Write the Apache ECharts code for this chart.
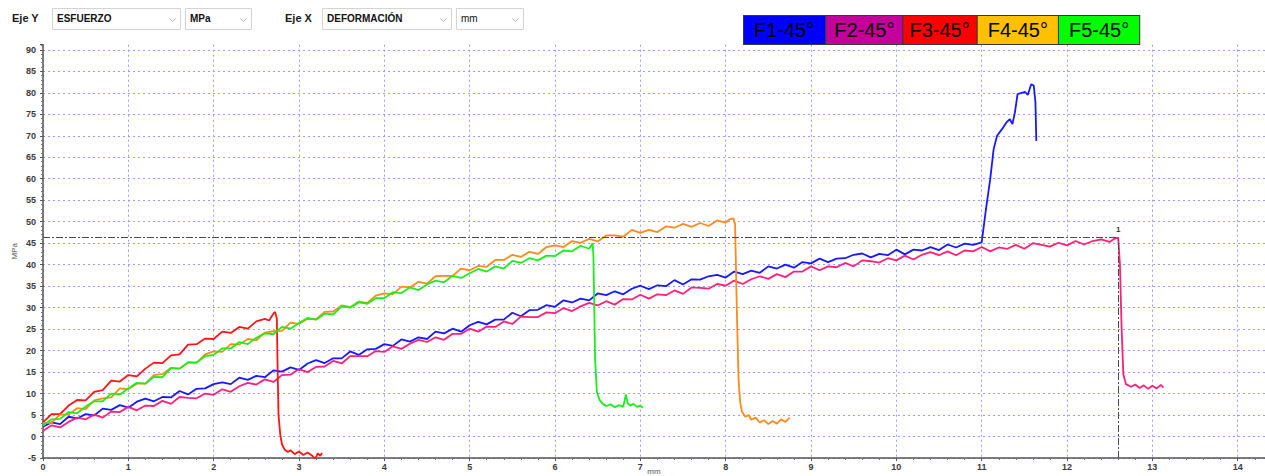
<!DOCTYPE html>
<html>
<head>
<meta charset="utf-8">
<title>Esfuerzo vs deformación</title>
<script src="https://cdn.jsdelivr.net/npm/echarts@6/dist/echarts.min.js"></script>
<style>
  html, body { margin: 0; padding: 0; background: #ffffff; }
  #chart { width: 1265px; height: 476px; }
</style>
</head>
<body>
<div id="chart"></div>
<script>
// Specimen names and legend colours
const seriesNames = ['F1-45°', 'F2-45°', 'F3-45°', 'F4-45°', 'F5-45°'];
const legendColors = ['#0000ff', '#c2009c', '#ff0000', '#ffc000', '#00ff00'];
const lineColors = ['#1818ff', '#ff2079', '#ff1414', '#ff8a1c', '#1cee1c'];

// Test curves: [deformación (mm), esfuerzo (MPa)]
const F1 = [
  [0.0,2.3],[0.1,3.3],[0.2,2.9],[0.3,4.6],[0.4,4.2],[0.5,5.2],[0.6,4.9],[0.7,6.5],[0.8,6.2],[0.9,7.3],
  [1.0,6.7],[1.1,8.1],[1.2,8.8],[1.3,8.2],[1.4,9.2],[1.5,9.1],[1.6,10.6],[1.7,9.8],[1.8,11.1],[1.9,11.2],
  [2.0,12.2],[2.1,12.6],[2.2,12.2],[2.3,13.7],[2.4,13.2],[2.5,14.1],[2.6,13.8],[2.7,15.4],[2.8,15.1],[2.9,16.1],
  [3.0,15.5],[3.1,17.0],[3.2,17.8],[3.3,17.1],[3.4,18.2],[3.5,18.2],[3.6,19.8],[3.7,19.0],[3.8,20.3],[3.9,20.4],
  [4.0,21.5],[4.1,21.1],[4.2,22.6],[4.3,22.1],[4.4,23.1],[4.5,22.7],[4.6,24.4],[4.7,24.0],[4.8,25.1],[4.9,24.4],
  [5.0,25.9],[5.1,26.7],[5.2,26.1],[5.3,27.2],[5.4,27.2],[5.5,28.8],[5.6,28.0],[5.7,29.4],[5.8,29.5],[5.9,30.6],
  [6.0,30.2],[6.1,31.7],[6.2,31.2],[6.3,32.1],[6.4,31.7],[6.5,33.3],[6.6,32.9],[6.7,33.8],[6.8,33.1],[6.9,34.4],
  [7.0,35.1],[7.1,34.3],[7.2,35.2],[7.3,35.0],[7.4,36.4],[7.5,35.4],[7.6,36.6],[7.7,36.5],[7.8,37.3],[7.9,37.6],
  [8.0,37.0],[8.1,38.4],[8.2,37.8],[8.3,38.6],[8.4,38.1],[8.5,39.6],[8.6,39.1],[8.7,40.0],[8.8,39.3],[8.9,40.6],
  [9.0,40.3],[9.1,41.4],[9.2,40.6],[9.3,41.4],[9.4,41.5],[9.5,42.3],[9.6,42.6],[9.7,41.7],[9.8,42.5],[9.9,42.2],
  [10.0,43.5],[10.1,42.4],[10.2,43.5],[10.3,43.3],[10.4,44.1],[10.5,43.4],[10.6,44.7],[10.7,44.0],[10.8,44.9],[10.9,44.6],
  [11.0,45.2],[11.05,52.9],[11.1,59.9],[11.14,66.9],[11.18,70.0],[11.24,71.6],[11.29,73.1],[11.33,73.9],[11.36,72.7],
  [11.39,75.5],[11.42,79.7],[11.51,80.2],[11.54,79.5],[11.58,82.0],[11.61,81.7],[11.63,77.8],[11.64,68.8]
];
const F2 = [
  [0.0,1.3],[0.1,2.6],[0.2,2.1],[0.3,3.4],[0.4,4.4],[0.5,4.0],[0.6,5.1],[0.7,4.4],[0.8,5.8],[0.9,5.7],
  [1.0,6.9],[1.1,6.1],[1.2,7.2],[1.3,7.1],[1.4,8.3],[1.5,7.6],[1.6,9.2],[1.7,9.0],[1.8,8.9],[1.9,10.0],
  [2.0,9.7],[2.1,11.0],[2.2,10.4],[2.3,11.7],[2.4,12.5],[2.5,12.1],[2.6,13.3],[2.7,12.7],[2.8,14.3],[2.9,14.4],
  [3.0,15.7],[3.1,15.0],[3.2,16.2],[3.3,16.3],[3.4,17.6],[3.5,17.0],[3.6,18.7],[3.7,18.7],[3.8,18.7],[3.9,19.9],
  [4.0,19.7],[4.1,21.0],[4.2,20.4],[4.3,21.6],[4.4,22.5],[4.5,22.0],[4.6,23.1],[4.7,22.5],[4.8,23.9],[4.9,23.9],
  [5.0,25.1],[5.1,24.4],[5.2,25.6],[5.3,25.5],[5.4,26.8],[5.5,26.2],[5.6,27.9],[5.7,27.8],[5.8,27.8],[5.9,28.9],
  [6.0,28.7],[6.1,29.9],[6.2,29.2],[6.3,30.3],[6.4,31.1],[6.5,30.5],[6.6,31.5],[6.7,30.7],[6.8,32.0],[6.9,31.9],
  [7.0,33.0],[7.1,32.1],[7.2,33.1],[7.3,32.9],[7.4,34.0],[7.5,33.2],[7.6,34.7],[7.7,34.6],[7.8,34.4],[7.9,35.5],
  [8.0,35.1],[8.1,36.3],[8.2,35.5],[8.3,36.6],[8.4,37.3],[8.5,36.7],[8.6,37.8],[8.7,37.1],[8.8,38.4],[8.9,38.4],
  [9.0,39.6],[9.1,38.7],[9.2,39.6],[9.3,39.4],[9.4,40.4],[9.5,39.6],[9.6,41.0],[9.7,40.8],[9.8,40.5],[9.9,41.5],
  [10.0,41.0],[10.1,42.1],[10.2,41.2],[10.3,42.3],[10.4,42.9],[10.5,42.2],[10.6,43.1],[10.7,42.2],[10.8,43.3],[10.9,43.1],
  [11.0,44.1],[11.1,43.1],[11.2,44.0],[11.3,43.7],[11.4,44.6],[11.5,43.7],[11.6,45.0],[11.7,44.6],[11.8,44.2],[11.9,45.1],
  [12.0,44.5],[12.1,45.5],[12.2,44.7],[12.3,45.5],[12.4,45.9],[12.5,45.3],[12.55,46.0],[12.6,46.3],
  [12.62,40.0],[12.64,25.0],[12.66,14.5],[12.69,12.2],[12.75,11.6],[12.8,12.1],[12.85,11.3],[12.9,11.9],
  [12.95,11.1],[13.0,11.8],[13.05,11.2],[13.1,12.0],[13.13,11.4]
];
const F3 = [
  [0.0,3.3],[0.1,5.2],[0.2,5.2],[0.3,7.2],[0.4,8.5],[0.5,8.4],[0.6,10.4],[0.7,10.8],[0.8,13.0],[0.9,12.8],
  [1.0,14.3],[1.1,14.0],[1.2,15.8],[1.3,17.2],[1.4,17.1],[1.5,18.9],[1.6,19.1],[1.7,21.4],[1.8,21.5],[1.9,22.8],
  [2.0,22.7],[2.1,24.4],[2.2,24.1],[2.3,25.5],[2.4,25.1],[2.5,26.8],[2.6,27.4],[2.65,27.0],[2.7,28.6],[2.72,29.0],
  [2.74,27.5],[2.75,15.0],[2.76,5.0],[2.78,0.5],[2.8,-1.8],[2.83,-3.0],[2.87,-3.6],[2.9,-3.2],[2.95,-4.1],
  [3.0,-3.5],[3.05,-4.3],[3.1,-3.7],[3.15,-4.4],[3.19,-5.2],[3.22,-3.9],[3.25,-4.5],[3.27,-3.8]
];
const F4 = [
  [0.0,3.1],[0.1,3.2],[0.2,5.1],[0.3,5.1],[0.4,6.6],[0.5,6.4],[0.6,8.4],[0.7,8.9],[0.8,9.1],[0.9,11.2],
  [1.0,11.0],[1.1,12.3],[1.2,12.3],[1.3,14.3],[1.4,14.5],[1.5,16.0],[1.6,15.8],[1.7,17.3],[1.8,17.2],[1.9,19.1],
  [2.0,19.8],[2.1,19.7],[2.2,21.5],[2.3,21.4],[2.4,22.7],[2.5,22.4],[2.6,24.2],[2.7,24.5],[2.8,24.6],[2.9,26.5],
  [3.0,26.2],[3.1,27.4],[3.2,27.3],[3.3,29.0],[3.4,29.1],[3.5,30.5],[3.6,30.1],[3.7,31.4],[3.8,31.1],[3.9,32.8],
  [4.0,33.3],[4.1,33.1],[4.2,34.9],[4.3,34.7],[4.4,36.0],[4.5,35.6],[4.6,37.3],[4.7,37.4],[4.8,37.4],[4.9,39.1],
  [5.0,38.7],[5.1,39.7],[5.2,39.5],[5.3,41.1],[5.4,41.1],[5.5,42.3],[5.6,41.8],[5.7,43.0],[5.8,42.5],[5.9,44.1],
  [6.0,44.5],[6.1,44.1],[6.2,45.5],[6.3,45.1],[6.4,46.0],[6.5,45.4],[6.6,46.8],[6.7,46.8],[6.8,46.5],[6.9,48.1],
  [7.0,47.4],[7.1,48.1],[7.2,47.6],[7.3,48.9],[7.4,48.6],[7.5,49.5],[7.6,48.8],[7.7,49.7],[7.8,49.0],[7.9,50.3],
  [8.0,49.8],[8.05,50.6],[8.09,50.8],[8.11,49.5],[8.13,30.0],[8.15,13.5],[8.17,8.0],[8.19,5.8],[8.23,4.6],
  [8.27,5.0],[8.3,3.9],[8.35,4.4],[8.4,3.3],[8.45,3.8],[8.5,2.9],[8.55,3.6],[8.6,3.0],[8.65,4.0],[8.7,3.4],[8.75,4.4]
];
const F5 = [
  [0.0,2.5],[0.1,4.0],[0.2,4.1],[0.3,5.7],[0.4,5.4],[0.5,7.0],[0.6,8.2],[0.7,8.2],[0.8,10.0],[0.9,9.8],
  [1.0,11.2],[1.1,12.5],[1.2,12.3],[1.3,13.9],[1.4,13.8],[1.5,15.9],[1.6,15.8],[1.7,17.2],[1.8,17.2],[1.9,18.7],
  [2.0,19.0],[2.1,20.5],[2.2,20.5],[2.3,22.0],[2.4,21.5],[2.5,23.0],[2.6,24.0],[2.7,23.8],[2.8,25.5],[2.9,25.1],
  [3.0,26.4],[3.1,27.6],[3.2,27.2],[3.3,28.6],[3.4,28.4],[3.5,30.3],[3.6,30.0],[3.7,31.2],[3.8,30.9],[3.9,32.2],
  [4.0,32.2],[4.1,33.6],[4.2,33.4],[4.3,34.7],[4.4,34.1],[4.5,35.4],[4.6,36.3],[4.7,35.9],[4.8,37.4],[4.9,36.9],
  [5.0,38.0],[5.1,39.0],[5.2,38.4],[5.3,39.6],[5.4,39.1],[5.5,40.9],[5.6,40.4],[5.7,41.5],[5.8,41.0],[5.9,42.1],
  [6.0,42.0],[6.1,43.3],[6.2,43.1],[6.3,44.4],[6.4,43.7],[6.44,45.0],
  [6.45,42.0],[6.46,30.0],[6.47,18.0],[6.49,10.5],[6.52,8.6],[6.56,7.6],[6.6,7.1],[6.65,7.5],[6.7,6.8],
  [6.75,7.3],[6.8,6.9],[6.83,9.8],[6.85,7.8],[6.88,7.2],[6.92,7.6],[6.96,6.9],[7.0,7.2],[7.03,6.7]
];
const curves = [F1, F2, F3, F4, F5];

// Cursor position (maximum of F2)
const cursorPoint = [12.6, 46.3];

// Axis ranges
const xMin = 0, xMax = 14.32, xStep = 1;
const yMin = -5, yMax = 91.2, yStep = 5;

// Selector captions at the top of the window
const axisSelectors = [
  { caption: 'Eje Y', captionX: 12, fields: [
    { text: 'ESFUERZO', x: 52, w: 128, bold: true },
    { text: 'MPa', x: 185, w: 66, bold: true } ] },
  { caption: 'Eje X', captionX: 285, fields: [
    { text: 'DEFORMACIÓN', x: 322, w: 129, bold: true },
    { text: 'mm', x: 456, w: 67, bold: false } ] }
];

const legendPadding = [[4, 11, 2, 10], [4, 8, 2, 8], [4, 7, 2, 6], [4, 10, 2, 10], [4, 10, 2, 10]];

const FONT = '"Liberation Sans", Arial, sans-serif';

const chart = echarts.init(document.getElementById('chart'), null, { renderer: 'svg' });

// Combo-box style selectors drawn as graphic elements
const graphics = [];
axisSelectors.forEach(function (sel) {
  graphics.push({
    type: 'text', left: sel.captionX, top: 12,
    style: { text: sel.caption, font: 'bold 11px ' + FONT, fill: '#1a1a1a' }
  });
  sel.fields.forEach(function (f) {
    graphics.push({
      type: 'rect', left: f.x, top: 8,
      shape: { width: f.w, height: 21 },
      style: { fill: '#ffffff', stroke: '#d4d4d4', lineWidth: 1 }
    });
    graphics.push({
      type: 'text', left: f.x + 5, top: 13,
      style: { text: f.text, font: (f.bold ? 'bold ' : '') + '10px ' + FONT, fill: '#111111' }
    });
    graphics.push({
      type: 'polyline', left: f.x + f.w - 13, top: 16,
      shape: { points: [[0, 0], [3, 3], [6, 0]] },
      style: { stroke: '#b0b0b0', lineWidth: 1, fill: null }
    });
  });
});

const series = curves.map(function (pts, i) {
  const s = {
    name: seriesNames[i],
    type: 'line',
    data: pts,
    showSymbol: false,
    symbol: 'none',
    smooth: false,
    animation: false,
    lineStyle: { color: lineColors[i], width: 1.8 },
    itemStyle: { color: lineColors[i] },
    emphasis: { disabled: true }
  };
  if (i === 1) {
    s.markLine = {
      silent: true,
      symbol: 'none',
      animation: false,
      lineStyle: { color: '#4a4a4a', type: [7, 2, 2, 2], width: 1 },
      label: { show: false },
      data: [
        [{ coord: [xMin, cursorPoint[1]] }, { coord: cursorPoint }],
        [{ coord: [cursorPoint[0], yMin] }, { coord: cursorPoint,
          label: { show: true, position: 'end', formatter: '1', distance: 4,
                   color: '#333', fontSize: 8, fontWeight: 'bold', fontFamily: FONT } }]
      ]
    };
  }
  return s;
});

const option = {
  backgroundColor: '#ffffff',
  animation: false,
  graphic: graphics,
  legend: {
    left: 734, top: 10,
    orient: 'horizontal',
    itemGap: -5,
    itemWidth: 0, itemHeight: 0,
    icon: 'none',
    selectedMode: false,
    textStyle: {
      fontSize: 20, fontFamily: FONT, color: '#000000', lineHeight: 22,
      borderColor: '#3a3a3a', borderWidth: 1
    },
    data: seriesNames.map(function (n, i) {
      return { name: n, icon: 'none',
               textStyle: { backgroundColor: legendColors[i], padding: legendPadding[i] } };
    })
  },
  grid: { left: 43, right: 0, top: 44.7, bottom: 18, outerBoundsMode: 'none', containLabel: false },
  xAxis: {
    type: 'value', min: xMin, max: xMax, interval: xStep,
    name: 'mm', nameLocation: 'middle', nameGap: 9, nameMoveOverlap: false,
    nameTextStyle: { fontSize: 8, color: '#555', fontFamily: FONT },
    axisLine: { onZero: false, lineStyle: { color: '#555555', width: 1.5 } },
    axisTick: { show: true, length: 3, lineStyle: { color: '#555555' } },
    minorTick: { show: true, splitNumber: 5, length: 2, lineStyle: { color: '#777777' } },
    axisLabel: { showMaxLabel: false, margin: 4, fontSize: 9, fontWeight: 'bold',
                 color: '#3a3a3a', fontFamily: FONT },
    splitLine: { show: true, showMaxLine: false,
                 lineStyle: { color: '#9a9aff', type: [2, 3], width: 1 } }
  },
  yAxis: {
    type: 'value', min: yMin, max: yMax, interval: yStep,
    name: 'MPa', nameLocation: 'middle', nameGap: 25, nameRotate: 90, nameMoveOverlap: false,
    nameTextStyle: { fontSize: 8, color: '#555', fontFamily: FONT },
    axisLine: { show: true, lineStyle: { color: '#555555', width: 1.5 } },
    axisTick: { show: true, length: 3, lineStyle: { color: '#555555' } },
    minorTick: { show: true, splitNumber: 5, length: 2, lineStyle: { color: '#777777' } },
    axisLabel: { showMaxLabel: false, margin: 7, fontSize: 9, fontWeight: 'bold',
                 color: '#3a3a3a', fontFamily: FONT },
    splitLine: { show: true, showMaxLine: false,
                 lineStyle: { color: '#9a9aff', type: [2, 3], width: 1 } }
  },
  series: series
};

chart.setOption(option);
</script>
</body>
</html>
